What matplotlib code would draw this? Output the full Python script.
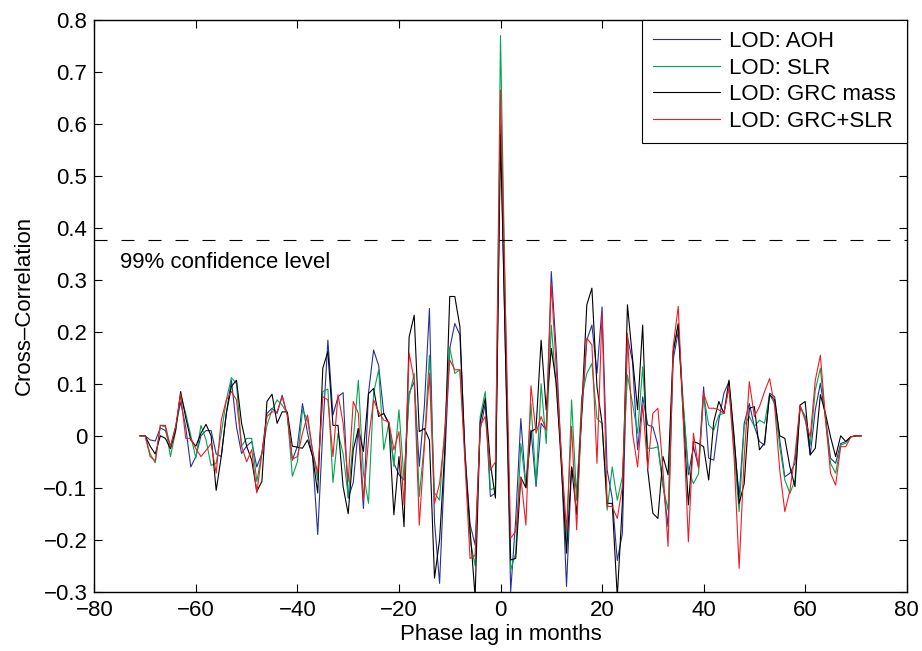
import numpy as np
import matplotlib
matplotlib.use('Agg')
import matplotlib.pyplot as plt
from matplotlib.ticker import FuncFormatter, MultipleLocator

plt.rcParams['font.family'] = ['Liberation Sans', 'DejaVu Sans']
plt.rcParams['font.size'] = 16

# phase lag in months
lags = np.arange(-71, 72)

# cross-correlation values, lag -71 ... 71
aoh = [
    0, 0, -0.008, -0.01, 0.015, 0.01, -0.02, 0.017, 0.065, 0.017,          # -71..-62
    -0.06, -0.04, 0.0, 0.01, 0.01, -0.035, -0.04, 0.043, 0.107, 0.017,      # -61..-52
    -0.034, -0.02, -0.011, -0.06, -0.034, 0.043, 0.053, 0.043, 0.078, 0.04, # -51..-42
    -0.047, -0.02, 0.062, 0.005, -0.04, -0.19, 0.011, 0.184, 0.04, 0.075,   # -41..-32
    0.083, -0.12, -0.09, 0.014, -0.14, 0.082, 0.165, 0.135, 0.043, 0.024,   # -31..-22
    -0.053, -0.075, -0.085, 0.082, 0.104, -0.059, 0.056, 0.245, -0.165, -0.284,  # -21..-12
    -0.053, 0.168, 0.216, 0.194, -0.03, -0.17, -0.21, 0.011, 0.062, -0.117, # -11..-2
    -0.11, 0.6, 0.15,                                                        # -1..1
    -0.3, -0.16, 0.033, -0.1, 0.011, -0.098, 0.024, 0.011, 0.316, 0.159,    # 2..11
    -0.05, -0.29, -0.06, -0.104, 0.037, 0.184, 0.213, 0.12, 0.248, -0.066,  # 12..21
    -0.12, -0.24, -0.188, 0.19, 0.143, -0.027, 0.075, 0.021, 0.017, -0.018, # 22..31
    -0.092, -0.175, 0.146, 0.2, 0.056, -0.075, -0.021, -0.06, 0.094, -0.043,# 32..41
    -0.047, 0.03, 0.082, 0.104, -0.01, -0.117, 0.024, 0.062, 0.018, -0.011, # 42..51
    -0.018, 0.082, 0.075, -0.008, -0.079, -0.072, -0.053, 0.056, 0.037, -0.037,  # 52..61
    0.05, 0.101, 0.037, -0.043, -0.053, -0.015, -0.011, -0.002, 0, 0,       # 62..71
]
slr = [
    0, 0, -0.035, -0.052, 0.02, 0.017, -0.04, 0.008, 0.08, 0.043,
    0.0, -0.043, 0.02, -0.008, -0.057, -0.053, 0.005, 0.069, 0.112, 0.1,
    -0.02, -0.005, -0.005, -0.088, -0.034, 0.02, 0.05, 0.069, 0.059, 0.043,
    -0.078, -0.05, 0.05, 0.03, -0.03, -0.085, 0.085, 0.09, -0.09, 0.005,
    -0.034, -0.117, -0.008, 0.107, -0.072, -0.13, 0.082, 0.127, -0.027, 0.024,
    -0.059, 0.05, -0.085, 0.075, 0.12, -0.117, -0.014, 0.155, -0.11, -0.124,
    0.011, 0.17, 0.12, 0.127, -0.03, -0.2, -0.25, 0.037, 0.085, -0.104,
    -0.1, 0.77, 0.22,
    -0.258, -0.226, -0.015, -0.098, 0.062, -0.092, 0.1, -0.015, 0.213, 0.088,
    -0.04, -0.204, 0.069, -0.124, 0.075, 0.12, 0.139, 0.033, 0.024, -0.143,
    -0.06, -0.124, -0.079, 0.117, 0.062, 0.005, 0.133, -0.024, -0.024, -0.021,
    -0.098, -0.143, 0.159, 0.213, 0.062, -0.066, -0.092, -0.073, 0.078, 0.021,
    0.011, 0.04, 0.043, 0.094, -0.03, -0.146, 0.02, 0.037, 0.018, 0.03,
    0.024, 0.079, 0.062, -0.021, -0.085, -0.111, -0.085, 0.056, 0.037, -0.018,
    0.088, 0.13, 0.03, -0.053, -0.072, -0.018, -0.014, -0.002, 0, 0,
]
grc_mass = [
    0, 0, -0.02, -0.035, 0, -0.005, -0.025, 0.01, 0.085, 0.035,
    -0.008, -0.02, 0.005, 0.022, 0, -0.105, -0.04, 0.043, 0.095, 0.107,
    0.024, -0.02, -0.047, -0.107, -0.088, 0.066, 0.08, 0.024, 0.046, 0.046,
    -0.02, -0.022, -0.024, -0.008, -0.04, -0.11, 0.13, 0.162, 0.02, 0.02,
    -0.098, -0.15, -0.027, 0.014, -0.03, 0.081, 0.091, 0.037, 0.043, 0.024,
    -0.152, -0.04, -0.175, 0.19, 0.232, 0.008, 0.014, -0.008, -0.274, -0.2,
    -0.034, 0.268, 0.268, 0.21, -0.04, -0.18, -0.31, 0.027, 0.072, -0.053,
    -0.12, 0.58, 0.15,
    -0.239, -0.236, -0.08, -0.1, 0.008, 0.014, 0.184, 0.05, 0.168, 0.1,
    -0.06, -0.226, -0.06, -0.152, 0.05, 0.252, 0.284, 0.094, 0.024, -0.13,
    -0.13, -0.31, -0.13, 0.252, 0.149, 0.05, 0.213, -0.066, -0.149, -0.159,
    -0.04, -0.075, 0.162, 0.216, 0.037, -0.133, -0.011, -0.015, -0.021, -0.085,
    0.027, 0.066, 0.043, 0.107, 0.0, -0.13, -0.092, 0.053, 0.056, -0.027,
    -0.014, 0.079, 0.069, 0, -0.005, -0.06, -0.098, 0.059, 0.066, -0.037,
    -0.024, 0.079, 0.043, -0.002, -0.04, 0, -0.011, -0.002, 0, 0,
]
grc_slr = [
    0, 0, -0.04, -0.048, 0.02, 0.02, -0.022, 0.017, 0.08, -0.005,
    -0.005, -0.025, -0.04, -0.028, -0.015, -0.072, 0.03, 0.069, 0.085, 0.069,
    -0.02, -0.05, -0.027, -0.11, -0.034, 0.037, 0.046, 0.046, 0.075, 0.04,
    -0.045, -0.04, 0.005, 0.04, -0.03, -0.072, 0.075, 0.069, -0.04, 0.079,
    0.024, -0.088, 0.066, 0.043, -0.123, -0.008, 0.069, 0.046, 0.03, 0.027,
    -0.027, 0.008, -0.133, 0.159, 0.107, -0.172, -0.021, 0.12, -0.13, -0.092,
    0.0, 0.146, 0.127, 0.127, -0.05, -0.236, -0.23, 0.02, 0.037, -0.066,
    -0.05, 0.665, 0.23,
    -0.197, -0.184, -0.079, -0.172, 0.096, 0.005, 0.037, 0.011, 0.293, 0.127,
    -0.04, -0.181, 0.018, -0.181, 0.056, 0.188, 0.175, -0.053, 0.236, -0.136,
    -0.136, -0.159, -0.098, 0.197, 0.005, -0.06, 0.06, -0.063, 0.043, 0.053,
    -0.066, -0.213, 0.171, 0.249, 0.03, -0.204, 0.005, -0.063, 0.082, 0.053,
    0.053, 0.05, 0.043, 0.094, -0.04, -0.255, -0.04, 0.104, 0.037, 0.056,
    0.085, 0.11, 0.056, -0.066, -0.146, -0.105, -0.037, 0.059, 0.03, -0.002,
    0.107, 0.155, 0.034, -0.072, -0.095, -0.021, -0.021, -0.002, 0, 0,
]

series_labels = ['LOD: AOH', 'LOD: SLR', 'LOD: GRC mass', 'LOD: GRC+SLR']
series_colors = ['#25319a', '#00a650', '#000000', '#ee1c25']
confidence = 0.376

fig = plt.figure(figsize=(9.22, 6.51), dpi=100)
ax = fig.add_axes([0.1023, 0.0911, 0.8811, 0.8782])

for vals, lab, col in zip([aoh, slr, grc_mass, grc_slr], series_labels, series_colors):
    assert len(vals) == len(lags), lab
    ax.plot(lags, vals, color=col, lw=0.8, label=lab)

ax.axhline(confidence, color='black', lw=0.8, dashes=(11.7, 12.6))
ax.text(-75, 0.333, '99% confidence level', ha='left', va='center', fontsize=16)

ax.set_xlim(-80, 80)
ax.set_ylim(-0.3, 0.8)
ax.xaxis.set_major_locator(MultipleLocator(20))
ax.yaxis.set_major_locator(MultipleLocator(0.1))
fmt = FuncFormatter(lambda v, _: f'{round(v, 2) + 0:g}'.replace('-', '\u2212'))
ax.xaxis.set_major_formatter(fmt)
ax.yaxis.set_major_formatter(fmt)
ax.tick_params(direction='in', top=True, right=True, length=6, width=0.8, labelsize=16)
ax.tick_params(axis='x', pad=6)
ax.tick_params(axis='y', pad=5)
for s in ax.spines.values():
    s.set_linewidth(1.0)

ax.set_xlabel('Phase lag in months', fontsize=16, labelpad=2)
ax.set_ylabel('Cross\u2013Correlation', fontsize=16, labelpad=6)

leg = ax.legend(loc='upper right', borderaxespad=0, fancybox=False, framealpha=1,
                edgecolor='black', handlelength=3, handletextpad=0.4,
                labelspacing=0.25, borderpad=0.5, fontsize=16)
leg.get_frame().set_linewidth(0.8)

fig.savefig('out.png', dpi=100)
